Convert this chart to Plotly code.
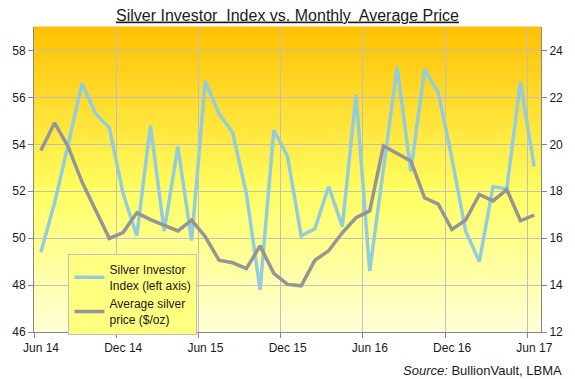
import plotly.graph_objects as go

# ---- data ----
months = ["Jun 14", "Jul 14", "Aug 14", "Sep 14", "Oct 14", "Nov 14", "Dec 14",
          "Jan 15", "Feb 15", "Mar 15", "Apr 15", "May 15", "Jun 15", "Jul 15",
          "Aug 15", "Sep 15", "Oct 15", "Nov 15", "Dec 15", "Jan 16", "Feb 16",
          "Mar 16", "Apr 16", "May 16", "Jun 16", "Jul 16", "Aug 16", "Sep 16",
          "Oct 16", "Nov 16", "Dec 16", "Jan 17", "Feb 17", "Mar 17", "Apr 17",
          "May 17", "Jun 17"]
investor_index = [49.4, 51.5, 54.0, 56.6, 55.3, 54.7, 51.9, 50.1, 54.8, 50.3,
                  53.9, 49.9, 56.7, 55.3, 54.5, 51.9, 47.8, 54.6, 53.5, 50.1,
                  50.4, 52.2, 50.5, 56.1, 48.6, 53.0, 57.3, 52.85, 57.2, 56.2,
                  53.4, 50.3, 49.0, 52.2, 52.1, 56.65, 53.05]
silver_price = [19.74, 20.91, 19.89, 18.4, 17.19, 15.99, 16.24, 17.08, 16.79,
                16.55, 16.31, 16.77, 16.06, 15.06, 14.95, 14.70, 15.67, 14.50,
                14.03, 13.97, 15.06, 15.46, 16.23, 16.87, 17.16, 19.93, 19.63,
                19.29, 17.72, 17.45, 16.37, 16.77, 17.86, 17.59, 18.07, 16.74,
                16.98]
tick_labels = ["Jun 14", "Dec 14", "Jun 15", "Dec 15", "Jun 16", "Dec 16", "Jun 17"]

# ---- positions (category centres, gridlines between categories) ----
xpos = [i + 0.5 for i in range(len(months))]
tick_pos = [months.index(t) for t in tick_labels]

FONT = "Liberation Sans, Arial, sans-serif"
GRID = "#BFBFBF"
AXIS = "#868686"

fig = go.Figure()
fig.add_trace(go.Scatter(
    x=xpos, y=investor_index, mode="lines",
    name="Silver Investor<br>Index (left axis)",
    line=dict(color="#93CDDD", width=3.5),
    customdata=months, hovertemplate="%{customdata}: %{y}<extra></extra>",
))
fig.add_trace(go.Scatter(
    x=xpos, y=silver_price, mode="lines", yaxis="y2",
    name="Average silver<br>price ($/oz)",
    line=dict(color="#959595", width=3.5),
    customdata=months, hovertemplate="%{customdata}: %{y}<extra></extra>",
))

# gradient background made of thin horizontal strips
def lerp(a, b, t):
    return tuple(round(a[k] + (b[k] - a[k]) * t) for k in range(3))

stops = [(0.0, (255, 192, 0)), (0.55, (255, 255, 100)), (1.0, (255, 255, 215))]
n = 80
shapes = []
for k in range(n):
    t = (k + 0.5) / n  # 0 top -> 1 bottom
    for j in range(len(stops) - 1):
        if stops[j][0] <= t <= stops[j + 1][0]:
            c = lerp(stops[j][1], stops[j + 1][1],
                     (t - stops[j][0]) / (stops[j + 1][0] - stops[j][0]))
            break
    shapes.append(dict(
        type="rect", xref="x domain", yref="y domain",
        x0=0, x1=1, y0=1 - (k + 1) / n, y1=1 - k / n + 0.002,
        fillcolor="rgb(%d,%d,%d)" % c, line=dict(width=0), layer="below",
    ))

fig.update_layout(
    width=575, height=379,
    margin=dict(l=32, r=28, t=27, b=47),
    paper_bgcolor="white", plot_bgcolor="rgba(0,0,0,0)",
    font=dict(family=FONT, size=12, color="#1a1a1a"),
    title=dict(
        text="<u>Silver Investor  Index vs. Monthly  Average Price</u>",
        font=dict(family=FONT, size=16, color="#1a1a1a"),
        x=0.5, xref="paper", xanchor="center",
        y=1 - 15 / 379, yref="container", yanchor="middle",
    ),
    showlegend=True,
    legend=dict(
        x=0.068, y=0.255, xanchor="left", yanchor="top",
        bgcolor="#FFFF80", bordercolor="#BFBFBF", borderwidth=1,
        font=dict(family=FONT, size=12, color="#1a1a1a"),
        tracegroupgap=0, itemwidth=30,
    ),
    shapes=shapes,
    xaxis=dict(
        range=[0, len(months)], tickmode="array",
        tickvals=tick_pos, ticktext=tick_labels, ticklabelshift=7,
        showgrid=True, gridcolor=GRID, gridwidth=1,
        showline=True, linecolor=AXIS, linewidth=1,
        ticks="outside", ticklen=5, tickcolor=AXIS,
        zeroline=False, tickfont=dict(size=12),
    ),
    yaxis=dict(
        range=[46, 59], tickmode="array", tickvals=[46, 48, 50, 52, 54, 56, 58],
        showgrid=True, gridcolor=GRID, gridwidth=1,
        showline=True, linecolor=AXIS, linewidth=1,
        ticks="outside", ticklen=5, tickcolor=AXIS,
        zeroline=False, tickfont=dict(size=12),
    ),
    yaxis2=dict(
        range=[12, 25], tickmode="array", tickvals=[12, 14, 16, 18, 20, 22, 24],
        overlaying="y", side="right", showgrid=False,
        showline=True, linecolor=AXIS, linewidth=1,
        ticks="outside", ticklen=5, tickcolor=AXIS,
        zeroline=False, tickfont=dict(size=12),
    ),
    annotations=[dict(
        text="<i>Source:</i> BullionVault, LBMA",
        xref="paper", yref="paper", x=1.045, y=-0.126,
        xanchor="right", yanchor="middle", showarrow=False,
        font=dict(family=FONT, size=13, color="#1a1a1a"),
    )],
)

fig.write_html(
    "out.html",
    config={"displayModeBar": False},
    post_script="document.body.style.margin='0';document.body.style.padding='0';",
)
